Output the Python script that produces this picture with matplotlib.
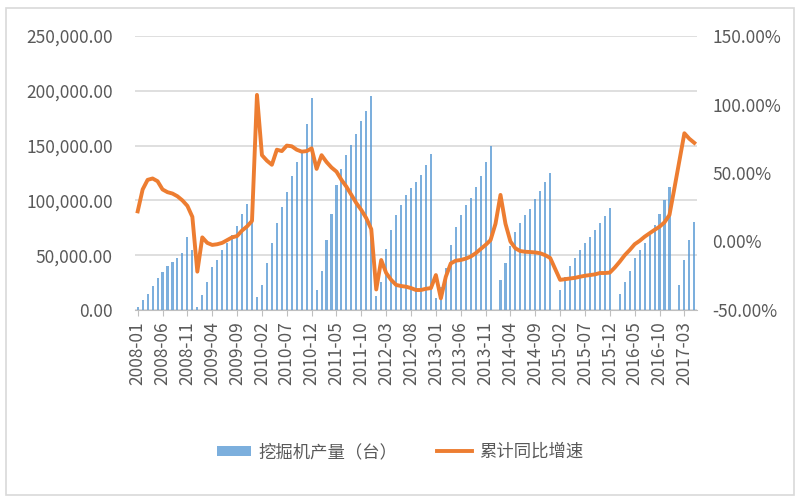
import numpy as np
import pandas as pd
import matplotlib
matplotlib.use("Agg")
import matplotlib.pyplot as plt
from matplotlib.ticker import FuncFormatter, FixedLocator

plt.rcParams['font.family'] = ['Noto Sans CJK SC', 'DejaVu Sans']

# -------------------------------
# Data
# -------------------------------
months = pd.period_range("2008-01", "2017-05", freq="M").strftime("%Y-%m").tolist()

# cumulative excavator output per year (units), nan = not reported
output_2008 = [3000, 9000, 15000, 22000, 29000, 35000, 40000, 44000, 47000, 52000, 67000, 55000]
output_2009 = [3000, 14000, 26000, 39000, 46000, 55000, 61000, 68000, 77000, 88000, 97000, 104000]
output_2010 = [12000, 23000, 43000, 61000, 79000, 94000, 108000, 122000, 135000, 146000, 170000, 193000]
output_2011 = [18000, 36000, 64000, 88000, 114000, 129000, 141000, 151000, 161000, 172000, 182000, 195000]
output_2012 = [13000, 26000, 56000, 73000, 87000, 96000, 105000, 111000, 117000, 123000, 132000, 142000]
output_2013 = [11000, 21000, 38000, 59000, 76000, 87000, 96000, 102000, 112000, 122000, 135000, 150000]
output_2014 = [np.nan, 27000, 43000, 58000, 71000, 79000, 87000, 92000, 101000, 109000, 117000, 125000]
output_2015 = [np.nan, 18000, 30000, 40000, 47000, 55000, 61000, 67000, 73000, 79000, 86000, 93000]
output_2016 = [np.nan, 15000, 26000, 36000, 47000, 55000, 61000, 68000, 78000, 88000, 100000, 112000]
output_2017 = [np.nan, 23000, 46000, 64000, 80000]

# cumulative year-on-year growth (%)
yoy_2008 = [22, 38, 45, 46, 44, 38, 36, 35, 33, 30, 26, 18]
yoy_2009 = [-22, 3, -1, -2.5, -2, -1, 1, 3, 4, 8, 11, 15]
yoy_2010 = [107, 63, 59, 56, 67, 66, 70, 69.5, 67, 65.6, 66, 68]
yoy_2011 = [53, 63, 58, 54, 51, 45, 40, 34, 28, 23, 17, 9]
yoy_2012 = [-35, -13.5, -23, -28, -31.7, -32.5, -33, -34, -35.4, -35.4, -34.5, -34]
yoy_2013 = [-24.5, -41.5, -25.7, -16, -14, -13.5, -12.5, -11, -8.6, -5.5, -2.5, 1]
yoy_2014 = [13, 34, 13, 0, -5, -7, -7.5, -7.7, -8, -8.6, -10, -12]
yoy_2015 = [-20, -28, -27.5, -27, -26.5, -25.7, -25, -24.5, -24, -23, -23, -22.7]
yoy_2016 = [-19, -14.7, -10, -6.2, -2, 0.5, 3.5, 6, 8.5, 10.8, 14, 19.4]
yoy_2017 = [39, 59, 79, 75, 72]

output = np.array(output_2008 + output_2009 + output_2010 + output_2011 + output_2012
                  + output_2013 + output_2014 + output_2015 + output_2016 + output_2017, dtype=float)
yoy = np.array(yoy_2008 + yoy_2009 + yoy_2010 + yoy_2011 + yoy_2012
               + yoy_2013 + yoy_2014 + yoy_2015 + yoy_2016 + yoy_2017, dtype=float) / 100

bar_label = "挖掘机产量（台）"
line_label = "累计同比增速"

# -------------------------------
# Plotting
# -------------------------------
grey = "#595959"
fig = plt.figure(figsize=(8, 5), dpi=100)
ax = fig.add_axes([0.169, 0.38, 0.702, 0.548])
ax2 = ax.twinx()

x = np.arange(len(months))
ax.bar(x, np.nan_to_num(output), width=0.42, color="#5B9BD5", alpha=0.8, label=bar_label, zorder=2)
ax2.plot(x, yoy, color="#ED7D31", lw=2.8, label=line_label, zorder=3,
         solid_joinstyle="round")

ax.set_xlim(-0.5, len(months) - 0.5)
ax.set_ylim(0, 250000)
ax.set_yticks(np.arange(0, 250001, 50000))
ax.yaxis.set_major_formatter(FuncFormatter(lambda v, p: f"{v:,.2f}"))
ax.grid(axis="y", color="#D9D9D9", lw=1.2, zorder=0)
ax.set_axisbelow(True)

ax2.set_ylim(-0.5, 1.5)
ax2.set_yticks(np.arange(-0.5, 1.51, 0.5))
ax2.yaxis.set_major_formatter(FuncFormatter(lambda v, p: f"{v*100:.2f}%"))

tick_pos = x[::5]
ax.xaxis.set_major_locator(FixedLocator(tick_pos))
ax.set_xticklabels([months[i] for i in tick_pos], rotation=90)

for a in (ax, ax2):
    for s in a.spines.values():
        s.set_visible(False)
ax.spines["bottom"].set_visible(True)
ax.spines["bottom"].set_color("#BFBFBF")

ax.tick_params(axis="x", colors=grey, labelsize=12.5, length=4, color="#BFBFBF", pad=4)
ax.tick_params(axis="y", colors=grey, labelsize=12.5, length=0, pad=16)
ax2.tick_params(axis="y", colors=grey, labelsize=12.5, length=0, pad=11)

fig.legend(loc="center", bbox_to_anchor=(0.5, 0.096), ncol=2, frameon=False,
           fontsize=12.5, labelcolor=grey, handlelength=2.0, handletextpad=0.4,
           columnspacing=2.3, handleheight=0.5)

# chart border
fig.patches.append(plt.Rectangle((0.008, 0.01), 0.984, 0.975, transform=fig.transFigure,
                                 fill=False, edgecolor="#D9D9D9", lw=1.2))

fig.savefig("out.png", dpi=100)
